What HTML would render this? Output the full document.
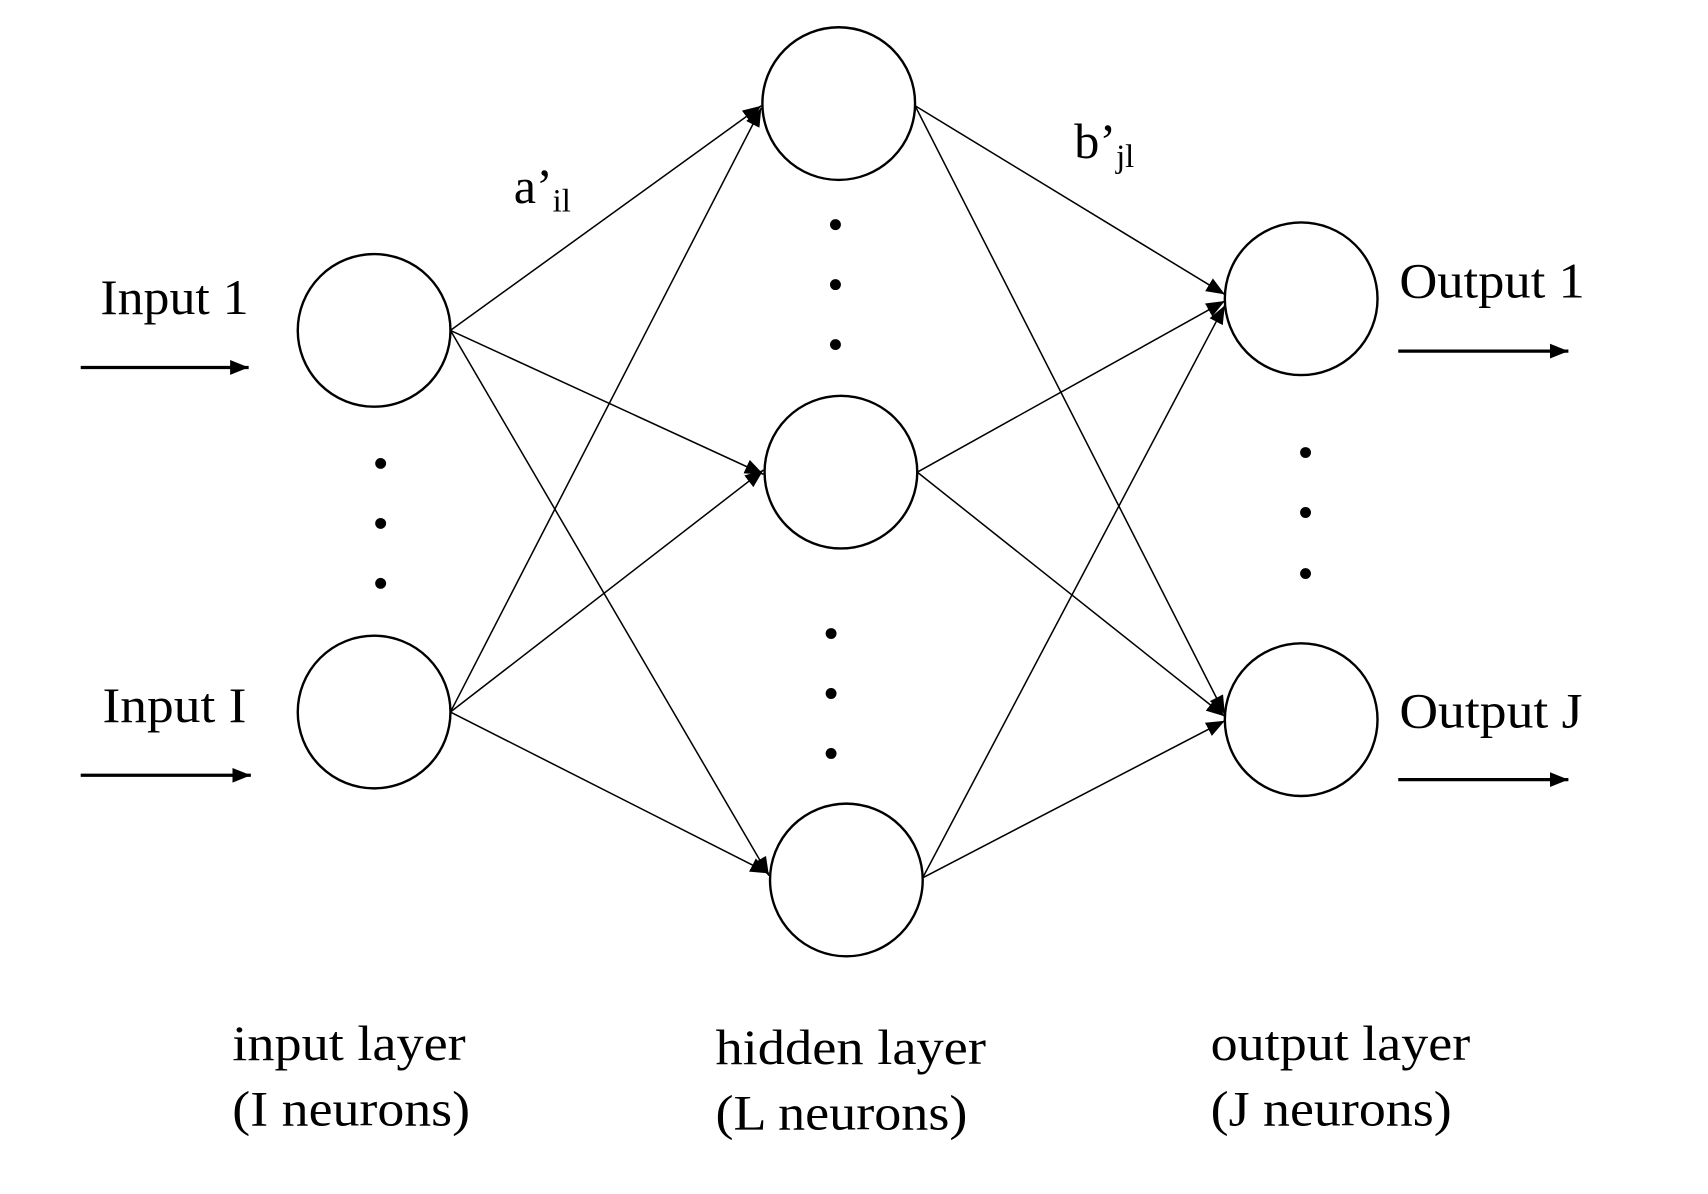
<!DOCTYPE html>
<html><head><meta charset="utf-8"><style>
html,body{margin:0;padding:0;background:#fff;}
svg{display:block;}
text{font-family:"Liberation Serif",serif;fill:#000;}
</style></head><body>
<svg width="1708" height="1194" viewBox="0 0 1566 1095" preserveAspectRatio="none" xmlns="http://www.w3.org/2000/svg">
<defs>
<marker id="ah2" viewBox="0 0 10 10" refX="10" refY="5" markerWidth="17" markerHeight="17" markerUnits="userSpaceOnUse" orient="auto"><path d="M0,1 L10,5 L0,9 z" fill="#000"/></marker>
</defs>
<g stroke="#000" stroke-width="1.4" fill="none">
<line x1="413" y1="303" x2="698" y2="97" marker-end="url(#ah2)"/>
<line x1="413" y1="303" x2="700" y2="435" marker-end="url(#ah2)"/>
<line x1="413" y1="303" x2="705" y2="803" marker-end="url(#ah2)"/>
<line x1="413" y1="653" x2="698" y2="99" marker-end="url(#ah2)"/>
<line x1="413" y1="653" x2="700" y2="431" marker-end="url(#ah2)"/>
<line x1="413" y1="653" x2="705" y2="801" marker-end="url(#ah2)"/>
<line x1="839" y1="97" x2="1123" y2="270" marker-end="url(#ah2)"/>
<line x1="839" y1="97" x2="1123" y2="655" marker-end="url(#ah2)"/>
<line x1="841" y1="433" x2="1123" y2="276" marker-end="url(#ah2)"/>
<line x1="841" y1="433" x2="1123" y2="657" marker-end="url(#ah2)"/>
<line x1="846" y1="805" x2="1123" y2="280" marker-end="url(#ah2)"/>
<line x1="846" y1="805" x2="1123" y2="661" marker-end="url(#ah2)"/>
</g>
<g stroke="#000" stroke-width="2.2" fill="#fff">
<ellipse cx="343" cy="303" rx="70" ry="70"/>
<ellipse cx="343" cy="653" rx="70" ry="70"/>
<ellipse cx="769" cy="95" rx="70" ry="70"/>
<ellipse cx="771" cy="433" rx="70" ry="70"/>
<ellipse cx="776" cy="807" rx="70" ry="70"/>
<ellipse cx="1193" cy="274" rx="70" ry="70"/>
<ellipse cx="1193" cy="660" rx="70" ry="70"/>
</g>
<g fill="#000">
<circle cx="349" cy="425" r="5"/><circle cx="349" cy="480" r="5"/><circle cx="349" cy="535" r="5"/>
<circle cx="766" cy="206" r="5"/><circle cx="766" cy="261" r="5"/><circle cx="766" cy="316" r="5"/>
<circle cx="762" cy="581" r="5"/><circle cx="762" cy="636" r="5"/><circle cx="762" cy="691" r="5"/>
<circle cx="1197" cy="415" r="5"/><circle cx="1197" cy="470" r="5"/><circle cx="1197" cy="526" r="5"/>
</g>
<g stroke="#000" stroke-width="3">
<line x1="74" y1="337" x2="228" y2="337" marker-end="url(#ah2)"/>
<line x1="74" y1="711" x2="230" y2="711" marker-end="url(#ah2)"/>
<line x1="1282" y1="322" x2="1438" y2="322" marker-end="url(#ah2)"/>
<line x1="1282" y1="715" x2="1438" y2="715" marker-end="url(#ah2)"/>
</g>
<g font-size="46">
<text x="92" y="288" textLength="136" lengthAdjust="spacingAndGlyphs">Input 1</text>
<text x="94" y="662" textLength="132" lengthAdjust="spacingAndGlyphs">Input I</text>
<text x="1283" y="273" textLength="170" lengthAdjust="spacingAndGlyphs">Output 1</text>
<text x="1283" y="667" textLength="168" lengthAdjust="spacingAndGlyphs">Output J</text>
<text x="471" y="186">a’<tspan font-size="30" dy="8">il</tspan></text>
<text x="985" y="145">b’<tspan font-size="30" dy="8">jl</tspan></text>
<text x="213" y="972" textLength="214" lengthAdjust="spacingAndGlyphs">input layer</text>
<text x="213" y="1032" textLength="218" lengthAdjust="spacingAndGlyphs">(I neurons)</text>
<text x="656" y="976" textLength="248" lengthAdjust="spacingAndGlyphs">hidden layer</text>
<text x="656" y="1036" textLength="231" lengthAdjust="spacingAndGlyphs">(L neurons)</text>
<text x="1110" y="972" textLength="238" lengthAdjust="spacingAndGlyphs">output layer</text>
<text x="1110" y="1032" textLength="221" lengthAdjust="spacingAndGlyphs">(J neurons)</text>
</g>
</svg>
</body></html>
